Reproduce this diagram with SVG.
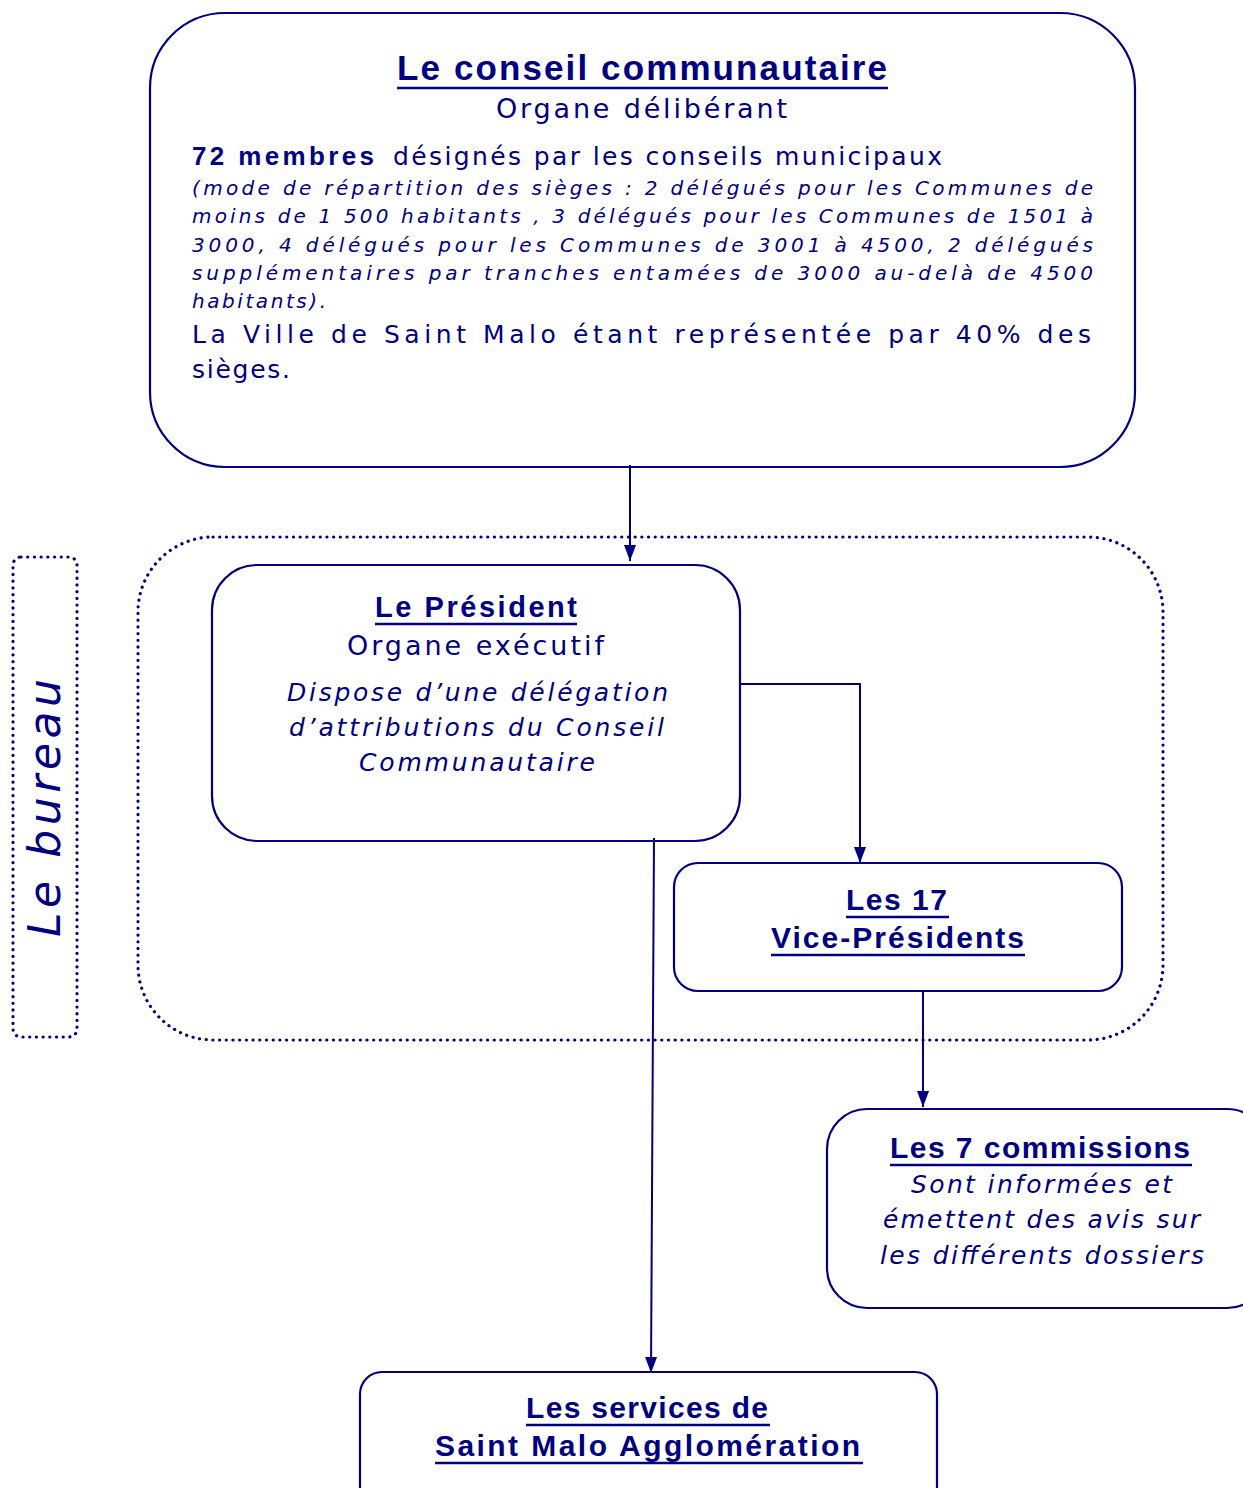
<svg xmlns="http://www.w3.org/2000/svg" width="1243" height="1488" viewBox="0 0 1243 1488">
<style>
  .box { fill: #ffffff; stroke: #000080; stroke-width: 2.2; }
  .dot { fill: none; stroke: #000080; stroke-width: 3.2; stroke-linecap: round; stroke-dasharray: 0.1 6.6; }
  .t { font-family: "Liberation Sans", Arial, sans-serif; fill: #000080; }
  .r { font-family: "DejaVu Sans", Verdana, sans-serif; fill: #000080; }
  .b { font-weight: bold; }
  .i { font-style: italic; }
  .ul { stroke: #000080; stroke-width: 2.5; }
  .con { fill: none; stroke: #000080; stroke-width: 2; }
</style>
<defs>
  <marker id="arr" markerUnits="userSpaceOnUse" markerWidth="16" markerHeight="14" viewBox="0 0 16 14" refX="16" refY="7" orient="auto">
    <path d="M0,1 L16,7 L0,13 z" fill="#000080"/>
  </marker>
</defs>
<rect width="1243" height="1488" fill="#ffffff"/>

<g id="bureau-frame">
  <rect class="dot" x="138" y="537" width="1025" height="503" rx="75" ry="75"/>
</g>
<g id="bureau-label">
  <rect class="dot" x="13" y="557" width="64" height="480" rx="8" ry="8"/>
  <text class="r i" font-size="44" transform="translate(60,937) rotate(-90)" textLength="258" lengthAdjust="spacing">Le bureau</text>
</g>

<g id="conseil">
  <rect class="box" x="150" y="13" width="985" height="454" rx="75" ry="75"/>
  <text class="t b" font-size="35" x="397" y="80" textLength="490" lengthAdjust="spacing">Le conseil communautaire</text>
  <line class="ul" x1="397" y1="88" x2="888" y2="88"/>
  <text class="r" font-size="27" x="496" y="118" textLength="291" lengthAdjust="spacing">Organe délibérant</text>
  <text class="t b" font-size="26" x="192" y="165" textLength="182" lengthAdjust="spacing">72 membres</text>
  <text class="r" font-size="25" x="393" y="165" textLength="549" lengthAdjust="spacing">désignés par les conseils municipaux</text>
  <text class="r i" font-size="20" x="192" y="195" textLength="901" lengthAdjust="spacing">(mode de répartition des sièges : 2 délégués pour les Communes de</text>
  <text class="r i" font-size="20" x="192" y="223" textLength="901" lengthAdjust="spacing">moins de 1 500 habitants , 3 délégués pour les Communes de 1501 à</text>
  <text class="r i" font-size="20" x="192" y="252" textLength="901" lengthAdjust="spacing">3000, 4 délégués pour les Communes de 3001 à 4500, 2 délégués</text>
  <text class="r i" font-size="20" x="192" y="280" textLength="901" lengthAdjust="spacing">supplémentaires par tranches entamées de 3000 au-delà de 4500</text>
  <text class="r i" font-size="20" x="192" y="308" textLength="134" lengthAdjust="spacing">habitants).</text>
  <text class="r" font-size="25" x="192" y="343" textLength="899" lengthAdjust="spacing">La Ville de Saint Malo étant représentée par 40% des</text>
  <text class="r" font-size="25" x="192" y="378" textLength="98" lengthAdjust="spacing">sièges.</text>
</g>

<g id="president">
  <rect class="box" x="212" y="565" width="528" height="276" rx="45" ry="45"/>
  <text class="t b" font-size="29" x="375" y="617" textLength="202" lengthAdjust="spacing">Le Président</text>
  <line class="ul" x1="375" y1="624" x2="577" y2="624"/>
  <text class="r" font-size="27" x="347" y="655" textLength="257" lengthAdjust="spacing">Organe exécutif</text>
  <text class="r i" font-size="25" x="287" y="701" textLength="381" lengthAdjust="spacing">Dispose d’une délégation</text>
  <text class="r i" font-size="25" x="289" y="736" textLength="375" lengthAdjust="spacing">d’attributions du Conseil</text>
  <text class="r i" font-size="25" x="359" y="771" textLength="236" lengthAdjust="spacing">Communautaire</text>
</g>

<g id="vice-presidents">
  <rect class="box" x="674" y="863" width="448" height="128" rx="24" ry="24"/>
  <text class="t b" font-size="30" x="846" y="910" textLength="101" lengthAdjust="spacing">Les 17</text>
  <line class="ul" x1="846" y1="917" x2="949" y2="917"/>
  <text class="t b" font-size="30" x="771" y="948" textLength="253" lengthAdjust="spacing">Vice-Présidents</text>
  <line class="ul" x1="771" y1="955" x2="1025" y2="955"/>
</g>

<g id="commissions">
  <rect class="box" x="827" y="1109" width="440" height="199" rx="40" ry="40"/>
  <text class="t b" font-size="30" x="890" y="1158" textLength="300" lengthAdjust="spacing">Les 7 commissions</text>
  <line class="ul" x1="890" y1="1165" x2="1192" y2="1165"/>
  <text class="r i" font-size="25" x="911" y="1193" textLength="261" lengthAdjust="spacing">Sont informées et</text>
  <text class="r i" font-size="25" x="883" y="1228" textLength="317" lengthAdjust="spacing">émettent des avis sur</text>
  <text class="r i" font-size="25" x="880" y="1264" textLength="324" lengthAdjust="spacing">les différents dossiers</text>
</g>

<g id="services">
  <rect class="box" x="360" y="1372" width="577" height="140" rx="22" ry="22"/>
  <text class="t b" font-size="30" x="526" y="1418" textLength="242" lengthAdjust="spacing">Les services de</text>
  <line class="ul" x1="526" y1="1425" x2="770" y2="1425"/>
  <text class="t b" font-size="30" x="435" y="1456" textLength="425" lengthAdjust="spacing">Saint Malo Agglomération</text>
  <line class="ul" x1="435" y1="1463" x2="863" y2="1463"/>
</g>

<g id="connectors">
  <line class="con" x1="630" y1="465" x2="630" y2="561" marker-end="url(#arr)"/>
  <polyline class="con" points="740,684 860,684 860,863" marker-end="url(#arr)"/>
  <line class="con" x1="923" y1="991" x2="923" y2="1107" marker-end="url(#arr)"/>
  <line class="con" x1="654" y1="838" x2="651" y2="1373" marker-end="url(#arr)"/>
</g>
</svg>
